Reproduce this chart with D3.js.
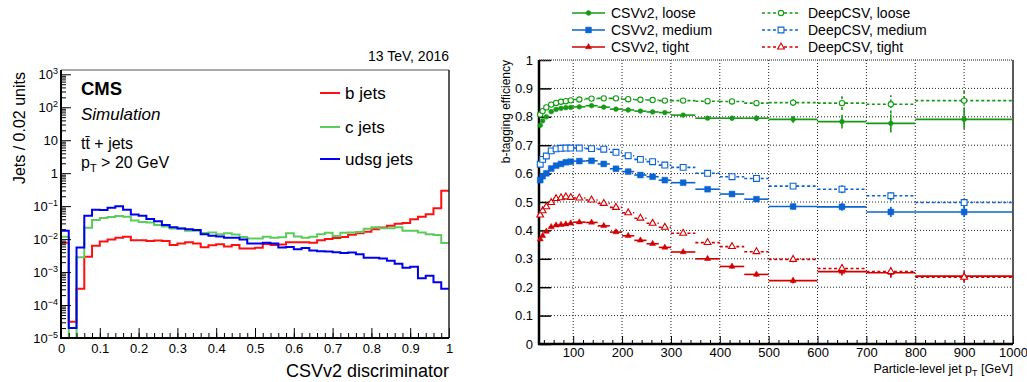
<!DOCTYPE html>
<html lang="en">
<head>
<meta charset="utf-8">
<title>CSVv2 discriminator and b-tagging efficiency</title>
<script src="https://d3js.org/d3.v7.min.js"></script>
<style>
  body { margin: 0; background: white; }
  svg text { font-family: "Liberation Sans", Arial, sans-serif; fill: #000; }
</style>
</head>
<body>
<svg id="chart" width="1027" height="382"></svg>
<script>
// ---- left panel: discriminator distributions (bins of 0.02) ----
var discrBinLo = d3.range(0, 50).map(function(i) { return i * 0.02; });
var bJets = [0.0078, 3.1e-5, 3.1e-4, 0.0029, 0.0063, 0.0084, 0.0098, 0.011, 0.0118, 0.0093,
             0.0092, 0.0088, 0.009, 0.0087, 0.0066, 0.0073, 0.008, 0.0073, 0.0057, 0.0065,
             0.007, 0.006, 0.0066, 0.0052, 0.0052, 0.0055, 0.0071, 0.0066, 0.0069, 0.0081,
             0.008, 0.0081, 0.0078, 0.0093, 0.01, 0.0108, 0.0116, 0.0136, 0.015, 0.0168,
             0.020, 0.0225, 0.0255, 0.029, 0.031, 0.040, 0.048, 0.057, 0.086, 0.295];
var cJets = [0.0118, 0, 0.0028, 0.022, 0.038, 0.044, 0.047, 0.05, 0.048, 0.037,
             0.033, 0.032, 0.027, 0.024, 0.021, 0.021, 0.018, 0.018, 0.0153, 0.0158,
             0.014, 0.015, 0.0138, 0.0116, 0.0105, 0.0105, 0.0118, 0.011, 0.0113, 0.015,
             0.012, 0.011, 0.0118, 0.014, 0.0157, 0.0125, 0.0157, 0.016, 0.0163, 0.0207,
             0.023, 0.0215, 0.0215, 0.023, 0.018, 0.018, 0.016, 0.014, 0.0134, 0.0076];
var udsgJets = [0.018, 2e-5, 0.0056, 0.051, 0.078, 0.077, 0.09, 0.099, 0.078, 0.056,
                0.051, 0.041, 0.035, 0.0267, 0.023, 0.021, 0.020, 0.019, 0.014, 0.0127,
                0.0121, 0.011, 0.011, 0.0098, 0.0073, 0.0074, 0.0078, 0.0074, 0.0056, 0.0058,
                0.0049, 0.0054, 0.0045, 0.0043, 0.0042, 0.004, 0.0038, 0.0039, 0.0035, 0.0027,
                0.0027, 0.0026, 0.0022, 0.0018, 0.00135, 0.00145, 0.00065, 0.00078, 0.00049, 0.00031];
var histNames = ["b jets", "c jets", "udsg jets"];
var xTicksL = [0, 0.1, 0.2, 0.3, 0.4, 0.5, 0.6, 0.7, 0.8, 0.9, 1];
var yTicksL = [1e-5, 1e-4, 1e-3, 1e-2, 1e-1, 1, 10, 100, 1000];

// ---- right panel: efficiency vs particle-level jet pT ----
var ptEdges = [30, 35, 40, 50, 60, 70, 80, 90, 100, 125, 150, 175, 200, 225, 250, 275, 300,
               350, 400, 450, 500, 600, 700, 800, 1000];
var csvLoose  = [0.770, 0.786, 0.800, 0.818, 0.826, 0.830, 0.832, 0.833, 0.835, 0.839, 0.834, 0.827,
                 0.824, 0.820, 0.817, 0.815, 0.806, 0.795, 0.795, 0.795, 0.791, 0.783, 0.777, 0.791];
var deepLoose = [0.808, 0.820, 0.833, 0.843, 0.849, 0.853, 0.855, 0.858, 0.861, 0.864, 0.865, 0.865,
                 0.862, 0.860, 0.859, 0.857, 0.857, 0.855, 0.854, 0.848, 0.850, 0.848, 0.844, 0.857];
var csvMedium  = [0.577, 0.591, 0.601, 0.618, 0.628, 0.634, 0.640, 0.642, 0.644, 0.645, 0.634, 0.617,
                  0.607, 0.595, 0.589, 0.577, 0.568, 0.545, 0.528, 0.510, 0.484, 0.483, 0.465, 0.465];
var deepMedium = [0.633, 0.650, 0.662, 0.680, 0.687, 0.689, 0.690, 0.690, 0.690, 0.688, 0.686, 0.675,
                  0.663, 0.650, 0.642, 0.630, 0.622, 0.601, 0.589, 0.583, 0.556, 0.545, 0.522, 0.498];
var csvTight  = [0.369, 0.381, 0.396, 0.412, 0.418, 0.420, 0.422, 0.425, 0.429, 0.428, 0.416, 0.394,
                 0.381, 0.365, 0.353, 0.340, 0.324, 0.300, 0.273, 0.245, 0.223, 0.255, 0.251, 0.239];
var deepTight = [0.454, 0.469, 0.483, 0.498, 0.512, 0.515, 0.518, 0.516, 0.514, 0.507, 0.495, 0.481,
                 0.462, 0.443, 0.425, 0.411, 0.390, 0.357, 0.343, 0.325, 0.298, 0.266, 0.255, 0.235];
// statistical uncertainties (estimated from the error bars)
var errLoose = [0.004, 0.004, 0.003, 0.003, 0.003, 0.003, 0.003, 0.003, 0.003, 0.003, 0.003, 0.003,
                0.004, 0.004, 0.004, 0.005, 0.005, 0.006, 0.008, 0.010, 0.012, 0.024, 0.032, 0.034];
var errOther = [0.004, 0.004, 0.003, 0.003, 0.003, 0.003, 0.003, 0.003, 0.003, 0.003, 0.003, 0.003,
                0.004, 0.004, 0.004, 0.005, 0.005, 0.006, 0.007, 0.008, 0.010, 0.014, 0.018, 0.018];
var effNames = ["CSVv2, loose", "CSVv2, medium", "CSVv2, tight",
                "DeepCSV, loose", "DeepCSV, medium", "DeepCSV, tight"];
var xTicksR = [100, 200, 300, 400, 500, 600, 700, 800, 900, 1000];
var yTicksR = [0, 0.1, 0.2, 0.3, 0.4, 0.5, 0.6, 0.7, 0.8, 0.9, 1];

var svg = d3.select("#chart");

// ================= left panel =================
var L = {x0: 61, x1: 449, y0: 70, y1: 338};
var xL = d3.scaleLinear().domain([0, 1]).range([L.x0, L.x1]);
var yL = d3.scaleLog().domain([1e-5, 1350]).range([L.y1, L.y0]).clamp(true);

svg.append("clipPath").attr("id", "clipL").append("rect")
  .attr("x", L.x0).attr("y", L.y0).attr("width", L.x1 - L.x0).attr("height", L.y1 - L.y0);

var histColors = ["#ff1010", "#5ccc5c", "#0000f0"];
[bJets, cJets, udsgJets].forEach(function(vals, k) {
  var pts = vals.map(function(v, i) { return [discrBinLo[i], v]; });
  pts.push([1, vals[vals.length - 1]]);
  var line = d3.line()
    .x(function(d) { return xL(d[0]); })
    .y(function(d) { return d[1] > 0 ? yL(d[1]) : L.y1 + 2; })
    .curve(d3.curveStepAfter);
  svg.append("path")
    .attr("clip-path", "url(#clipL)")
    .attr("d", line(pts))
    .attr("fill", "none")
    .attr("stroke", histColors[k])
    .attr("stroke-width", 2);
});

// x axis (ticks inside)
var minorXL = d3.range(0, 51).map(function(i) { return i * 0.02; });
svg.append("g").attr("transform", "translate(0," + L.y1 + ")")
  .call(d3.axisBottom(xL).tickValues(minorXL).tickSize(-5).tickFormat(""))
  .call(function(g) { g.select(".domain").remove(); });
svg.append("g").attr("transform", "translate(0," + L.y1 + ")")
  .call(d3.axisBottom(xL).tickValues(xTicksL).tickSize(-10).tickPadding(6)
        .tickFormat(function(d) { return (d === 0 || d === 1) ? d : d3.format(".1f")(d); }))
  .call(function(g) {
    g.select(".domain").remove();
    g.selectAll("text").attr("font-size", 13).attr("font-family", "Liberation Sans, Arial, sans-serif");
  });

// y axis (log, ticks inside)
var minorYL = [];
for (var e = -5; e <= 3; e++) {
  for (var m = 2; m <= 9; m++) {
    var t = m * Math.pow(10, e);
    if (t < 1350) minorYL.push(t);
  }
}
svg.append("g").attr("transform", "translate(" + L.x0 + ",0)")
  .call(d3.axisLeft(yL).tickValues(minorYL).tickSize(-5).tickFormat(""))
  .call(function(g) { g.select(".domain").remove(); });
svg.append("g").attr("transform", "translate(" + L.x0 + ",0)")
  .call(d3.axisLeft(yL).tickValues(yTicksL).tickSize(-10).tickPadding(3).tickFormat(""))
  .call(function(g) {
    g.select(".domain").remove();
    g.selectAll(".tick text").each(function(d) {
      var ex = Math.round(Math.log10(d));
      var txt = d3.select(this).attr("font-size", 13).attr("font-family", "Liberation Sans, Arial, sans-serif");
      if (ex === 0) { txt.text("1"); return; }
      if (ex === 1) { txt.text("10"); return; }
      txt.append("tspan").text("10");
      txt.append("tspan").attr("dy", "-0.5em").attr("font-size", 9)
        .text(ex < 0 ? "\u2212" + (-ex) : ex);
    });
  });

// frame
svg.append("line").attr("x1", L.x0).attr("x2", L.x1).attr("y1", L.y0).attr("y2", L.y0)
  .attr("stroke", "#555").attr("stroke-width", 1);
svg.append("line").attr("x1", L.x1).attr("x2", L.x1).attr("y1", L.y0).attr("y2", L.y1)
  .attr("stroke", "#222").attr("stroke-width", 1.5);
svg.append("line").attr("x1", L.x0).attr("x2", L.x0).attr("y1", L.y0).attr("y2", L.y1 + 1)
  .attr("stroke", "#000").attr("stroke-width", 2);
svg.append("line").attr("x1", L.x0 - 1).attr("x2", L.x1).attr("y1", L.y1).attr("y2", L.y1)
  .attr("stroke", "#000").attr("stroke-width", 2);

// labels
svg.append("text").attr("x", L.x1).attr("y", 61).attr("text-anchor", "end")
  .attr("font-size", 14).text("13 TeV, 2016");
svg.append("text").attr("x", 81).attr("y", 95).attr("font-size", 18.5)
  .attr("font-weight", "bold").text("CMS");
svg.append("text").attr("x", 81).attr("y", 120).attr("font-size", 17)
  .attr("font-style", "italic").text("Simulation");
svg.append("text").attr("x", 81).attr("y", 149).attr("font-size", 16).text("t\u0074\u0304 + jets");
var ptTxt = svg.append("text").attr("x", 81).attr("y", 168).attr("font-size", 16);
ptTxt.append("tspan").text("p");
ptTxt.append("tspan").attr("dy", 4).attr("font-size", 11).text("T");
ptTxt.append("tspan").attr("dy", -4).text(" > 20 GeV");
svg.append("text")
  .attr("transform", "translate(25,72) rotate(-90)")
  .attr("text-anchor", "end").attr("font-size", 16).text("Jets / 0.02 units");
svg.append("text").attr("x", L.x1).attr("y", 377).attr("text-anchor", "end")
  .attr("font-size", 18).text("CSVv2 discriminator");

// legend
var legY = [93, 127, 159];
histNames.forEach(function(name, k) {
  svg.append("line").attr("x1", 320).attr("x2", 340).attr("y1", legY[k]).attr("y2", legY[k])
    .attr("stroke", histColors[k]).attr("stroke-width", 2);
  svg.append("text").attr("x", 345).attr("y", legY[k] + 6).attr("font-size", 17).text(name);
});

// ================= right panel =================
var R = {x0: 539, x1: 1013, y0: 60, y1: 344};
var xR = d3.scaleLinear().domain([30, 1000]).range([R.x0, R.x1]);
var yR = d3.scaleLinear().domain([0, 1]).range([R.y1, R.y0]);

// grid
svg.append("g").selectAll("line").data(xTicksR.slice(0, -1)).enter().append("line")
  .attr("x1", function(d) { return xR(d); }).attr("x2", function(d) { return xR(d); })
  .attr("y1", R.y0).attr("y2", R.y1)
  .attr("stroke", "#222").attr("stroke-width", 1).attr("stroke-dasharray", "1,2");
svg.append("g").selectAll("line").data(yTicksR.slice(1, -1)).enter().append("line")
  .attr("x1", R.x0).attr("x2", R.x1)
  .attr("y1", function(d) { return yR(d); }).attr("y2", function(d) { return yR(d); })
  .attr("stroke", "#222").attr("stroke-width", 1).attr("stroke-dasharray", "1,2");

// axes
var minorXR = d3.range(40, 1000, 20).filter(function(d) { return d % 100 !== 0; });
svg.append("g").attr("transform", "translate(0," + R.y1 + ")")
  .call(d3.axisBottom(xR).tickValues(minorXR).tickSize(-4).tickFormat(""))
  .call(function(g) { g.select(".domain").remove(); });
svg.append("g").attr("transform", "translate(0," + R.y1 + ")")
  .call(d3.axisBottom(xR).tickValues(xTicksR).tickSize(-8).tickPadding(4).tickFormat(d3.format("d")))
  .call(function(g) {
    g.select(".domain").remove();
    g.selectAll("text").attr("font-size", 13).attr("font-family", "Liberation Sans, Arial, sans-serif");
  });
svg.append("g").attr("transform", "translate(" + R.x0 + ",0)")
  .call(d3.axisLeft(yR).tickValues(yTicksR).tickSize(-12).tickPadding(6)
        .tickFormat(function(d) { return (d === 0 || d === 1) ? d : d3.format(".1f")(d); }))
  .call(function(g) {
    g.select(".domain").remove();
    g.selectAll("line").attr("stroke-width", 1.5);
    g.selectAll("text").attr("font-size", 13).attr("font-family", "Liberation Sans, Arial, sans-serif");
  });

// frame
svg.append("line").attr("x1", R.x0).attr("x2", R.x1).attr("y1", R.y0).attr("y2", R.y0)
  .attr("stroke", "#666").attr("stroke-width", 1.5).attr("stroke-dasharray", "1,1");
svg.append("line").attr("x1", R.x1).attr("x2", R.x1).attr("y1", R.y0).attr("y2", R.y1)
  .attr("stroke", "#222").attr("stroke-width", 1.5);
svg.append("line").attr("x1", R.x0).attr("x2", R.x0).attr("y1", R.y0).attr("y2", R.y1 + 1)
  .attr("stroke", "#000").attr("stroke-width", 2.5);
svg.append("line").attr("x1", R.x0 - 1).attr("x2", R.x1).attr("y1", R.y1).attr("y2", R.y1)
  .attr("stroke", "#000").attr("stroke-width", 2.5);

// series
var green = "#149a14", blue = "#0a64d2", red = "#d20000";
var series = [
  {name: effNames[0], vals: csvLoose,   err: errLoose, color: green, sym: d3.symbolCircle,   size: 18, open: false},
  {name: effNames[1], vals: csvMedium,  err: errOther, color: blue,  sym: d3.symbolSquare,   size: 34, open: false},
  {name: effNames[2], vals: csvTight,   err: errOther, color: red,   sym: d3.symbolTriangle, size: 16, open: false},
  {name: effNames[3], vals: deepLoose,  err: errLoose, color: green, sym: d3.symbolCircle,   size: 22, open: true},
  {name: effNames[4], vals: deepMedium, err: errOther, color: blue,  sym: d3.symbolSquare,   size: 34, open: true},
  {name: effNames[5], vals: deepTight,  err: errOther, color: red,   sym: d3.symbolTriangle, size: 20, open: true}
];

function drawMarker(g, s, x, y) {
  g.append("path")
    .attr("transform", "translate(" + x + "," + y + ")")
    .attr("d", d3.symbol().type(s.sym).size(s.size)())
    .attr("fill", s.open ? "white" : s.color)
    .attr("stroke", s.color)
    .attr("stroke-width", s.open ? 1.1 : 0.5);
}

series.forEach(function(s) {
  var g = svg.append("g");
  s.vals.forEach(function(v, i) {
    var lo = ptEdges[i], hi = ptEdges[i + 1], c = (lo + hi) / 2;
    g.append("line")
      .attr("x1", xR(lo)).attr("x2", xR(hi)).attr("y1", yR(v)).attr("y2", yR(v))
      .attr("stroke", s.color).attr("stroke-width", 1.6)
      .attr("stroke-dasharray", s.open ? "3,2.5" : null);
    g.append("line")
      .attr("x1", xR(c)).attr("x2", xR(c)).attr("y1", yR(v - s.err[i])).attr("y2", yR(v + s.err[i]))
      .attr("stroke", s.color).attr("stroke-width", 1.6)
      .attr("stroke-dasharray", s.open ? "3,2.5" : null);
  });
  s.vals.forEach(function(v, i) {
    var c = (ptEdges[i] + ptEdges[i + 1]) / 2;
    drawMarker(g, s, xR(c), yR(v));
  });
});

// legend
var legRows = [17, 34, 51];
series.forEach(function(s, k) {
  var col = k < 3 ? 0 : 1, row = k % 3;
  var lx0 = col === 0 ? 572 : 762, lx1 = col === 0 ? 605 : 800;
  var tx = col === 0 ? 611 : 808;
  var y = legRows[row] - 4;
  var g = svg.append("g");
  g.append("line").attr("x1", lx0).attr("x2", lx1).attr("y1", y).attr("y2", y)
    .attr("stroke", s.color).attr("stroke-width", 1.6)
    .attr("stroke-dasharray", s.open ? "3,2.5" : null);
  drawMarker(g, s, (lx0 + lx1) / 2, y);
  g.append("text").attr("x", tx).attr("y", legRows[row] + 1).attr("font-size", 14).text(s.name);
});

// axis titles
svg.append("text")
  .attr("transform", "translate(510," + R.y0 + ") rotate(-90)")
  .attr("text-anchor", "end").attr("font-size", 12).text("b-tagging efficiency");
var xt = svg.append("text").attr("x", R.x1).attr("y", 373).attr("text-anchor", "end").attr("font-size", 12.5);
xt.append("tspan").text("Particle-level jet p");
xt.append("tspan").attr("dy", 3).attr("font-size", 9).text("T");
xt.append("tspan").attr("dy", -3).text(" [GeV]");
</script>
</body>
</html>
